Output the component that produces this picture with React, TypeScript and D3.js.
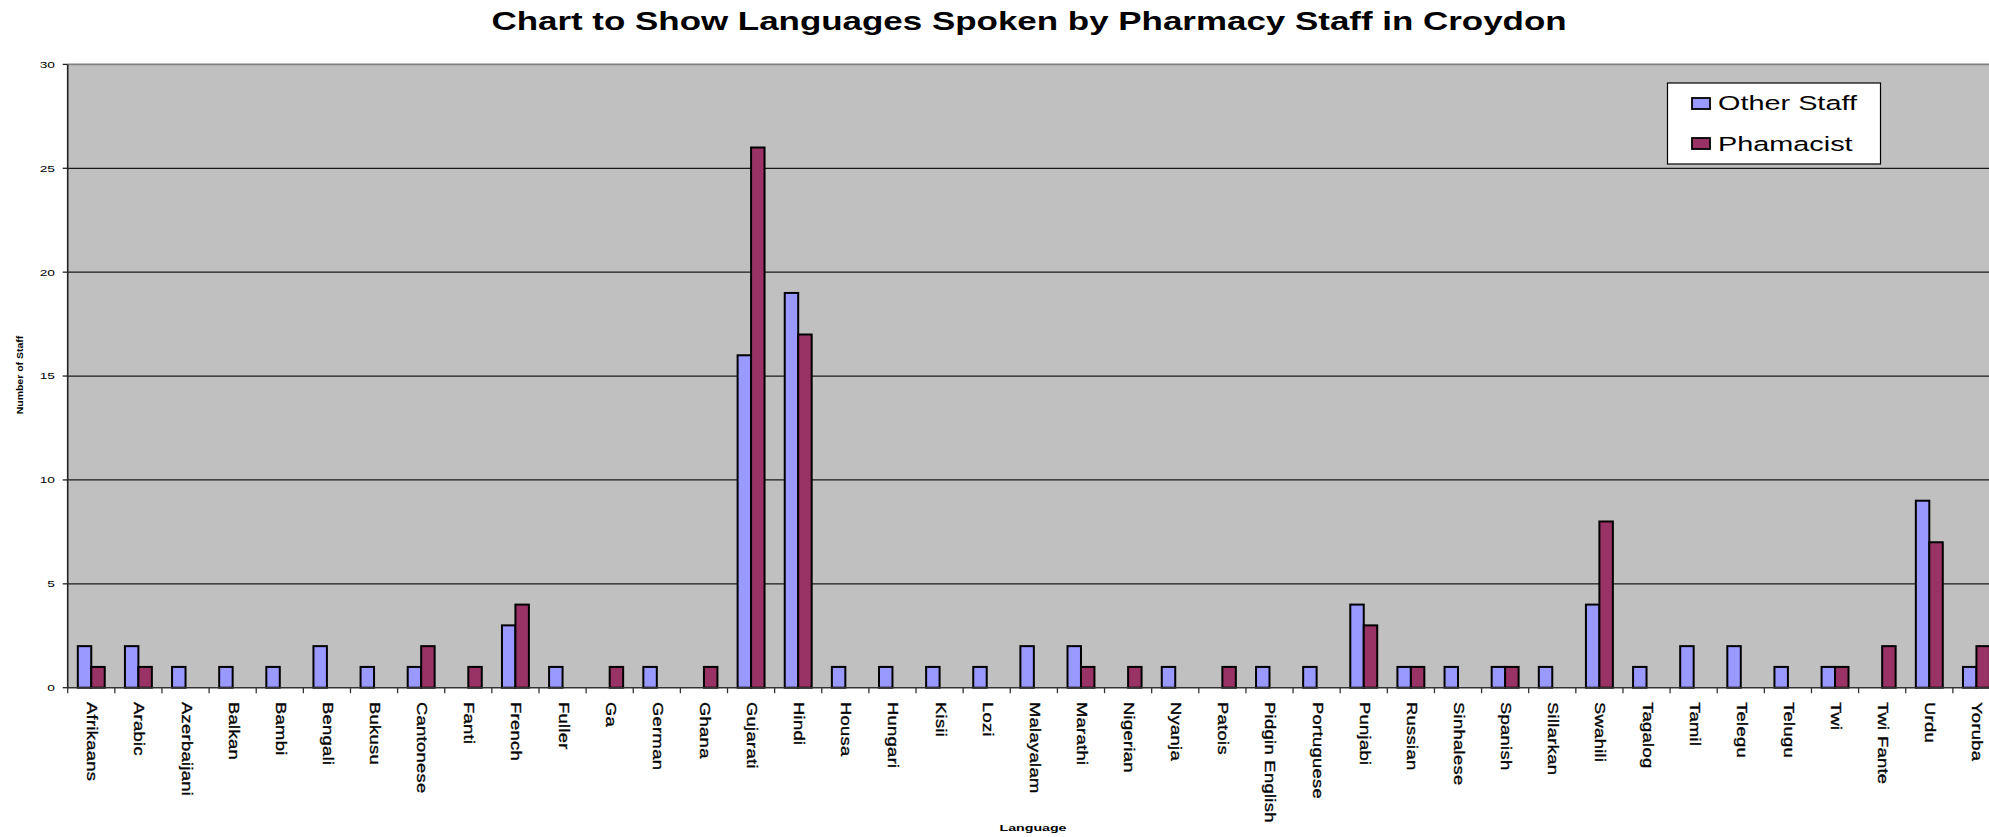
import React from "react";
import * as d3 from "d3";

const categories = [
  "Afrikaans", "Arabic", "Azerbaijani", "Balkan", "Bambi", "Bengali", "Bukusu", "Cantonese",
  "Fanti", "French", "Fuller", "Ga", "German", "Ghana", "Gujarati", "Hindi", "Housa", "Hungari",
  "Kisii", "Lozi", "Malayalam", "Marathi", "Nigerian", "Nyanja", "Patois", "Pidgin English",
  "Portuguese", "Punjabi", "Russian", "Sinhalese", "Spanish", "Sillarkan", "Swahili", "Tagalog",
  "Tamil", "Telegu", "Telugu", "Twi", "Twi Fante", "Urdu", "Yoruba",
];
const otherStaff = [2, 2, 1, 1, 1, 2, 1, 1, 0, 3, 1, 0, 1, 0, 16, 19, 1, 1, 1, 1, 2, 2, 0, 1, 0, 1, 1, 4, 1, 1, 1, 1, 4, 1, 2, 2, 1, 1, 0, 9, 1];
const pharmacist = [1, 1, 0, 0, 0, 0, 0, 2, 1, 4, 0, 1, 0, 1, 26, 17, 0, 0, 0, 0, 0, 1, 1, 0, 1, 0, 0, 3, 1, 0, 1, 0, 8, 0, 0, 0, 0, 1, 2, 7, 2];
const seriesNames = ["Other Staff", "Phamacist"];
const seriesColors = ["#9999FF", "#993366"];
const yTicks = [0, 5, 10, 15, 20, 25, 30];

const W = 1989;
const H = 837;
const left = 67.7;
const right = 2000;
const top = 64.4;
const bottom = 687.7;
const FONT = "'Liberation Sans', Arial, sans-serif";

export default function App() {
  const x0 = d3.scaleBand<string>().domain(categories).range([left, right]).padding(0);
  const x1 = d3.scaleBand<string>().domain(seriesNames).range([0, x0.bandwidth()]).paddingInner(0).paddingOuter(0.75);
  const y = d3.scaleLinear().domain([0, 30]).range([bottom, top]);
  const data = [otherStaff, pharmacist];

  return (
    <div style={{ position: "absolute", left: 0, top: 0, width: W, height: H, overflow: "hidden", background: "#fff" }}>
      <svg width={W} height={H} style={{ display: "block" }} fontFamily={FONT}>
        <rect x={left} y={top} width={right - left} height={bottom - top} fill="#C0C0C0" />
        {yTicks.filter((t) => t > 0 && t < 30).map((t) => (
          <line key={"g" + t} x1={left} x2={right} y1={y(t)} y2={y(t)} stroke="#1a1a1a" strokeWidth={1.2} />
        ))}
        <line x1={left} x2={right} y1={y(30)} y2={y(30)} stroke="#808080" strokeWidth={1.6} />
        {categories.map((c, i) => (
          <g key={c}>
            {data.map((vals, s) =>
              vals[i] > 0 ? (
                <rect
                  key={s}
                  x={(x0(c) as number) + (x1(seriesNames[s]) as number)}
                  y={y(vals[i])}
                  width={x1.bandwidth()}
                  height={y(0) - y(vals[i])}
                  fill={seriesColors[s]}
                  stroke="#000"
                  strokeWidth={2}
                />
              ) : null
            )}
          </g>
        ))}
        {/* axes */}
        <line x1={left} x2={left} y1={top} y2={bottom} stroke="#222" strokeWidth={1.6} />
        <line x1={left} x2={right} y1={bottom} y2={bottom} stroke="#333" strokeWidth={1.6} />
        {yTicks.map((t) => (
          <g key={"yt" + t}>
            <line x1={left - 5} x2={left} y1={y(t)} y2={y(t)} stroke="#222" strokeWidth={1.3} />
            <text
              transform={`translate(55,${y(t) + 3.4}) scale(1.45,1)`}
              textAnchor="end"
              fontSize={9.5}
              fill="#000"
            >
              {t}
            </text>
          </g>
        ))}
        {categories.map((c) => (
          <line
            key={"xt" + c}
            x1={x0(c) as number}
            x2={x0(c) as number}
            y1={bottom}
            y2={bottom + 5.5}
            stroke="#333"
            strokeWidth={1.3}
          />
        ))}
        {categories.map((c) => {
          const cx = (x0(c) as number) + x0.bandwidth() / 2;
          return (
            <text
              key={"xl" + c}
              transform={`translate(${cx - 4},702) rotate(90) scale(1.08,0.9)`}
              fontSize={17}
              letterSpacing={0.3}
              fill="#000"
              stroke="#000"
              strokeWidth={0.35}
            >
              {c}
            </text>
          );
        })}
        {/* titles */}
        <text
          transform={`translate(1029,30) scale(1.37,1)`}
          textAnchor="middle"
          fontSize={25.5}
          fontWeight="bold"
          fill="#000"
        >
          Chart to Show Languages Spoken by Pharmacy Staff in Croydon
        </text>
        <text
          transform={`translate(22.5,375) rotate(-90) scale(1.02,0.95)`}
          textAnchor="middle"
          fontSize={10.3}
          fontWeight="bold"
          fill="#000"
        >
          Number of Staff
        </text>
        <text
          transform={`translate(1033,831) scale(1.45,1)`}
          textAnchor="middle"
          fontSize={9.8}
          fontWeight="bold"
          fill="#000"
        >
          Language
        </text>
        {/* legend */}
        <rect x={1667.5} y={83} width={213} height={81} fill="#fff" stroke="#000" strokeWidth={1.2} />
        {seriesNames.map((s, i) => (
          <g key={"lg" + s}>
            <rect x={1692} y={98 + i * 40} width={18} height={11} fill={seriesColors[i]} stroke="#000" strokeWidth={1.8} />
            <text
              transform={`translate(1718,${110.3 + i * 40.4}) scale(1.48,1)`}
              fontSize={19.5}
              fill="#000"
            >
              {s}
            </text>
          </g>
        ))}
      </svg>
    </div>
  );
}
